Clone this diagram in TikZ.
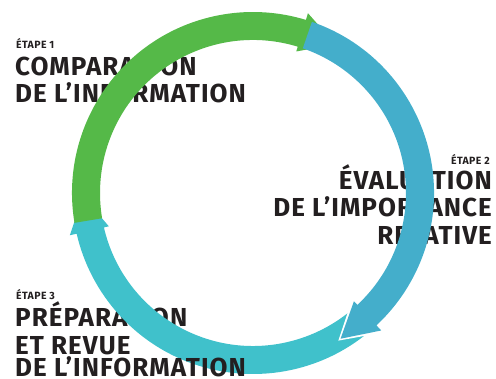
\documentclass[tikz,border=0pt]{standalone}
\usepackage{fontspec}
\setmainfont{Fira Sans}[LetterSpace=4]
\definecolor{ringgreen}{HTML}{55B948}
\definecolor{ringblue}{HTML}{44AECB}
\definecolor{ringteal}{HTML}{40C1CB}
\definecolor{ink}{HTML}{231F20}
% curved ring arrow: #1 tail angle, #2 head base angle (clockwise), #3 colour
\newcommand\ringarrow[3]{%
  \fill[#3] (#1:181) arc[start angle=#1, end angle=#2, radius=181]
    -- (#2:188) -- ({#2-12}:170) -- (#2:148) -- (#2:153)
    arc[start angle=#2, end angle=#1, radius=153] -- cycle;}
\begin{document}
\begin{tikzpicture}[x=1pt,y=1pt,
  steplabel/.style={font=\bfseries\fontsize{10.5}{12}\selectfont, text=ink,
    inner sep=0pt, text height=7.5pt, text depth=0pt},
  title/.style={font=\bfseries\fontsize{26}{28}\selectfont, text=ink,
    inner sep=0pt, text height=18pt, text depth=0pt}]
\useasboundingbox (0,0) rectangle (496,379);

% stage 1
\node[steplabel, anchor=base west] (e1) at (16,330) {ÉTAPE 1};
\node[title, anchor=base west] (t1a) at (15,303) {COMPARAISON};
\node[title, anchor=base west] (t1b) at (15,276) {DE L’INFORMATION};
% stage 2
\node[steplabel, anchor=base east] (e2) at (490,214) {ÉTAPE 2};
\node[title, anchor=base east] (t2a) at (492,189) {ÉVALUATION};
\node[title, anchor=base east] (t2b) at (492,162) {DE L’IMPORTANCE};
\node[title, anchor=base east] (t2c) at (492,134) {RELATIVE};
% stage 3
\node[steplabel, anchor=base west] (e3) at (16,79) {ÉTAPE 3};
\node[title, anchor=base west] (t3a) at (15,52) {PRÉPARATION};
\node[title, anchor=base west] (t3b) at (15,24) {ET REVUE};

% the cycle of three arrows
\begin{scope}[shift={(253,186)}]
  \ringarrow{-48}{-167}{ringteal}
  \ringarrow{189.5}{73}{ringgreen}
  \draw[white, line width=3, line join=miter] (-47:189) -- (-59:170) -- (-47:147);
  \ringarrow{71}{-47}{ringblue}
\end{scope}

\node[title, anchor=base west] (t3c) at (15,2.5) {DE L’INFORMATION};
\end{tikzpicture}
\end{document}
